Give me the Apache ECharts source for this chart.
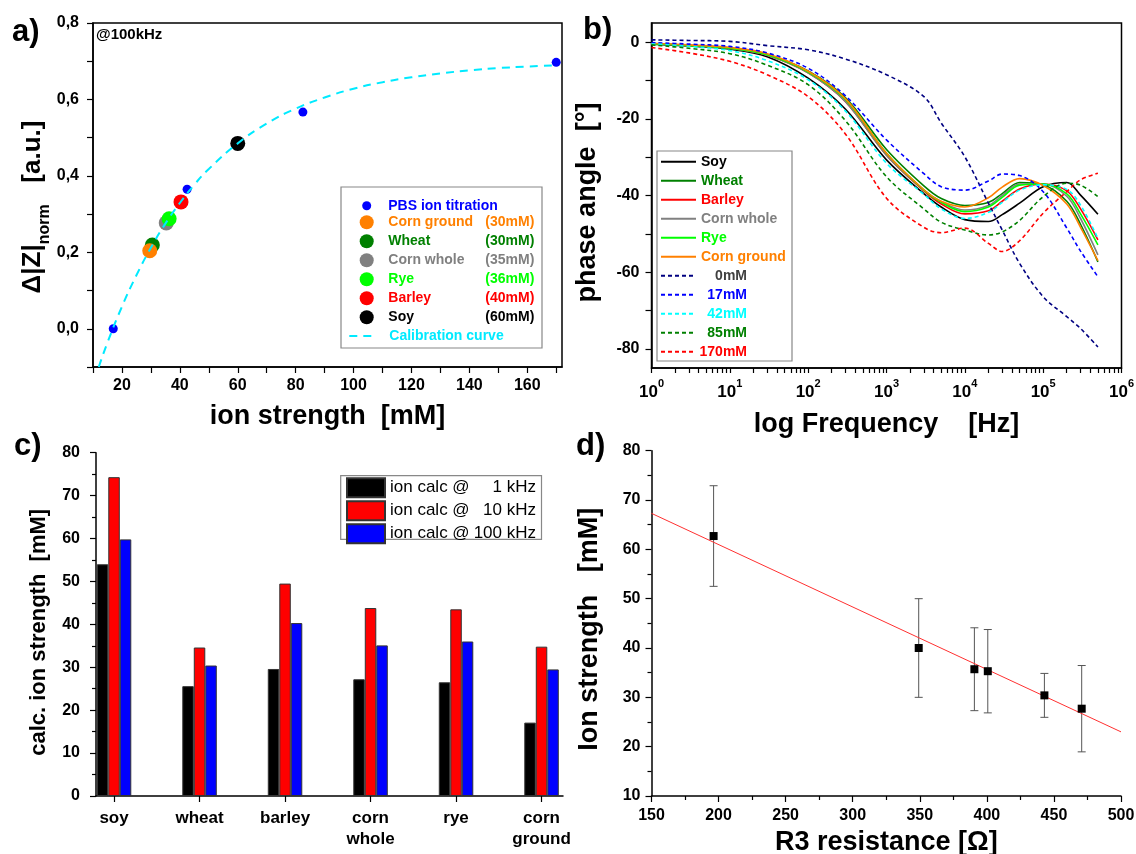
<!DOCTYPE html>
<html>
<head>
<meta charset="utf-8">
<script src="https://cdn.jsdelivr.net/npm/echarts@6/dist/echarts.min.js"></script>
<style>
  html, body { margin: 0; background: #fff; }
  #chart { width: 1136px; height: 854px; }
</style>
</head>
<body>
<div id="chart"></div>
<script>
// ---- a) calibration at 100 kHz
const pbsIon = [17, 42.5, 82.5, 170];
const pbsDz = [0.0, 0.365, 0.567, 0.697];
const sampleNames = ["Corn ground", "Wheat", "Corn whole", "Rye", "Barley", "Soy"];
const sampleConc = ["(30mM)", "(30mM)", "(35mM)", "(36mM)", "(40mM)", "(60mM)"];
const sampleIon = [29.6, 30.5, 35.3, 36.3, 40.4, 60];
const sampleDz = [0.204, 0.219, 0.277, 0.288, 0.332, 0.485];
const sampleColors = ["#ff8000", "#008000", "#808080", "#00ff00", "#ff0000", "#000000"];
const calibIon = [12, 15, 20, 25, 30, 35, 40, 45, 50, 60, 70, 80, 90, 100, 110, 120, 130, 140, 150, 160, 170];
const calibDz = [-0.1, -0.036, 0.058, 0.14, 0.212, 0.275, 0.329, 0.377, 0.418, 0.485, 0.537, 0.576, 0.605, 0.628, 0.645, 0.658, 0.668, 0.676, 0.682, 0.686, 0.689];
const ionTicks = [10, 20, 30, 40, 50, 60, 70, 80, 90, 100, 110, 120, 130, 140, 150, 160, 170];
const ionLabels = [20, 40, 60, 80, 100, 120, 140, 160];
const dzTicks = [-0.1, 0, 0.1, 0.2, 0.3, 0.4, 0.5, 0.6, 0.7, 0.8];
const dzLabels = [0, 0.2, 0.4, 0.6, 0.8];

// ---- b) phase spectra
const freqHz = [1, 3, 10, 30, 100, 300, 1000, 3000, 5000, 10000, 20000, 30000, 50000, 100000, 200000, 300000, 500000];
const phaseSoy = [-0.5, -1.0, -1.8, -3.8, -9.4, -17.5, -30.7, -39.5, -43.0, -46.3, -46.8, -45.0, -42.0, -37.7, -36.6, -39.9, -44.9];
const phaseWheat = [-0.4, -0.8, -1.5, -3.2, -7.5, -14.5, -28.0, -37.5, -40.8, -42.6, -41.8, -39.5, -36.6, -37.2, -41.5, -47.5, -57.3];
const phaseBarley = [-0.4, -0.9, -1.6, -3.4, -8.0, -15.5, -29.5, -38.8, -42.2, -44.8, -44.0, -41.5, -38.3, -37.0, -38.8, -43.5, -51.6];
const phaseCornWhole = [-0.4, -0.9, -1.6, -3.4, -8.0, -15.5, -29.5, -38.6, -41.6, -43.8, -42.6, -40.0, -37.0, -37.0, -40.2, -46.0, -55.5];
const phaseRye = [-0.4, -0.9, -1.6, -3.3, -7.8, -15.0, -29.0, -38.6, -41.8, -44.2, -43.0, -40.5, -37.3, -37.0, -39.6, -44.8, -52.9];
const phaseCornGround = [-0.3, -0.7, -1.4, -3.0, -7.6, -14.8, -29.0, -38.5, -41.5, -43.0, -40.6, -37.8, -35.6, -37.4, -42.2, -48.3, -57.0];
const phase0 = [0.6, 0.45, 0.2, -0.9, -2.0, -4.4, -8.5, -14.2, -21.1, -29.9, -42.0, -49.0, -57.7, -66.4, -71.6, -74.7, -79.5];
const phase17 = [-0.1, -0.5, -1.1, -2.8, -6.8, -14.0, -25.5, -34.3, -37.7, -38.6, -36.2, -34.4, -34.8, -39.0, -48.5, -54.5, -61.2];
const phase42 = [-0.4, -1.1, -2.2, -4.8, -9.8, -18.0, -31.6, -39.7, -43.5, -46.0, -44.4, -41.8, -38.6, -37.2, -38.4, -42.5, -51.2];
const phase85 = [-0.7, -1.6, -3.0, -6.0, -11.1, -20.5, -35.1, -43.5, -47.0, -49.0, -50.3, -49.5, -46.5, -40.3, -36.8, -37.3, -40.3];
const phase170 = [-1.4, -2.8, -5.0, -8.5, -14.2, -24.0, -40.7, -48.3, -49.7, -48.5, -52.5, -54.6, -51.8, -44.6, -39.0, -35.9, -34.2];
const bNames = ["Soy", "Wheat", "Barley", "Corn whole", "Rye", "Corn ground", "0mM", "17mM", "42mM", "85mM", "170mM"];
const bPhase = [phaseSoy, phaseWheat, phaseBarley, phaseCornWhole, phaseRye, phaseCornGround, phase0, phase17, phase42, phase85, phase170];
const bColors = ["#000000", "#008000", "#ff0000", "#808080", "#00ff00", "#ff8000", "#000080", "#0000ff", "#00ffff", "#008000", "#ff0000"];
const bTextColors = ["#000000", "#008000", "#ff0000", "#808080", "#00ff00", "#ff8000", "#404040", "#0000ff", "#00ffff", "#008000", "#ff0000"];
const phaseTicks = [-80, -70, -60, -50, -40, -30, -20, -10, 0];
const phaseLabels = [-80, -60, -40, -20, 0];
const decadeLabels = [1, 10, 100, 1000, 10000, 100000, 1000000];

// ---- c) calculated ion strength
const grainNames = ["soy", "wheat", "barley", "corn\nwhole", "rye", "corn\nground"];
const grainPos = [1, 2, 3, 4, 5, 6];
const calc1k = [54.0, 25.6, 29.6, 27.2, 26.5, 17.1];
const calc10k = [74.3, 34.6, 49.5, 43.8, 43.5, 34.8];
const calc100k = [59.8, 30.4, 40.3, 35.1, 36.0, 29.5];
const calcNames = ["ion calc @ 1 kHz", "ion calc @ 10 kHz", "ion calc @ 100 kHz"];

// ---- d) ion strength vs R3
const r3 = [196.3, 349.2, 390.7, 400.7, 442.9, 470.7];
const ionD = [62.7, 40.0, 35.7, 35.3, 30.4, 27.7];
const ionErr = [10.2, 10.0, 8.4, 8.45, 4.45, 8.75];
const fitR = [150, 500];
const fitIon = [67.3, 23.0];

const FONT = '"Liberation Sans", Arial, sans-serif';
const BOLD16 = { fontSize: 16, fontWeight: "bold", color: "#000", fontFamily: FONT };
const AXIS_LINE = { show: true, onZero: false, lineStyle: { color: "#000", width: 1.5 } };
const TICK_LINE = { color: "#000", width: 1.2 };
const TITLE = { fontSize: 27, fontWeight: "bold", color: "#000", fontFamily: FONT };

const logTicks = [];
for (let e = 0; e < 6; e++) for (let k = 1; k < 10; k++) logTicks.push(k * Math.pow(10, e));
logTicks.push(1000000);

function zip(xs, ys) { return xs.map((x, i) => [x, ys[i]]); }

const chart = echarts.init(document.getElementById("chart"), null, { renderer: "canvas" });

const series = [];
// a
series.push({
  name: "PBS ion titration", type: "scatter", xAxisIndex: 0, yAxisIndex: 0,
  data: zip(pbsIon, pbsDz), symbolSize: 9, itemStyle: { color: "#0000ff", opacity: 1 }, z: 3
});
[1, 0, 2, 3, 4, 5].forEach((k) => {
  series.push({
    name: sampleNames[k], type: "scatter", xAxisIndex: 0, yAxisIndex: 0,
    data: [[sampleIon[k], sampleDz[k]]], symbolSize: 15, itemStyle: { color: sampleColors[k], opacity: 1 }, z: 2
  });
});
series.push({
  name: "Calibration curve", type: "line", xAxisIndex: 0, yAxisIndex: 0,
  data: zip(calibIon, calibDz), smooth: true, symbol: "none",
  lineStyle: { color: "#00eaff", width: 2, type: [8, 6] }, z: 5
});
// b
bNames.forEach((n, i) => {
  series.push({
    name: "b:" + n, type: "line", xAxisIndex: 1, yAxisIndex: 1,
    data: zip(freqHz, bPhase[i]), smooth: 0.35, symbol: "none",
    lineStyle: { color: bColors[i], width: 1.6, type: i < 6 ? "solid" : [4, 3] },
    itemStyle: { color: bColors[i] }
  });
});
// c
[calc1k, calc10k, calc100k].forEach((vals, i) => {
  series.push({
    name: calcNames[i], type: "bar", xAxisIndex: 2, yAxisIndex: 2,
    data: zip(grainPos, vals), barWidth: 11.5, barGap: "0%",
    itemStyle: { color: ["#000000", "#ff0000", "#0000ff"][i], borderColor: "#333", borderWidth: 1 }
  });
});
// d
series.push({
  type: "custom", xAxisIndex: 3, yAxisIndex: 3, z: 1,
  data: r3.map((x, i) => [x, ionD[i] - ionErr[i], ionD[i] + ionErr[i]]),
  encode: { x: 0, y: [1, 2] },
  renderItem: (params, api) => {
    const top = api.coord([api.value(0), api.value(2)]);
    const bot = api.coord([api.value(0), api.value(1)]);
    const w = 4;
    const st = { stroke: "#555", lineWidth: 1 };
    return {
      type: "group", children: [
        { type: "line", shape: { x1: top[0], y1: top[1], x2: bot[0], y2: bot[1] }, style: st },
        { type: "line", shape: { x1: top[0] - w, y1: top[1], x2: top[0] + w, y2: top[1] }, style: st },
        { type: "line", shape: { x1: bot[0] - w, y1: bot[1], x2: bot[0] + w, y2: bot[1] }, style: st }
      ]
    };
  }
});
series.push({
  name: "fit", type: "line", xAxisIndex: 3, yAxisIndex: 3, data: zip(fitR, fitIon),
  symbol: "none", lineStyle: { color: "#ff3030", width: 1 }, z: 2
});
series.push({
  name: "R3 data", type: "scatter", xAxisIndex: 3, yAxisIndex: 3, data: zip(r3, ionD),
  symbol: "rect", symbolSize: 8, itemStyle: { color: "#000", opacity: 1 }, z: 3
});

const legendText = { fontSize: 14, fontWeight: "bold", fontFamily: FONT };

chart.setOption({
  animation: false,
  backgroundColor: "#fff",
  textStyle: { fontFamily: FONT },
  grid: [
    { left: 93, top: 23, width: 469, height: 344, show: true, borderColor: "#000", borderWidth: 1.5, outerBoundsMode: "none" },
    { left: 651.5, top: 23, width: 470, height: 345, show: true, borderColor: "#000", borderWidth: 1.5, outerBoundsMode: "none" },
    { left: 96, top: 452.7, width: 467, height: 343.3, outerBoundsMode: "none" },
    { left: 651.5, top: 450.7, width: 469.5, height: 345.3, outerBoundsMode: "none" }
  ],
  xAxis: [
    {
      type: "value", gridIndex: 0, min: 10, max: 172, axisLine: AXIS_LINE,
      axisTick: { show: true, length: 6, customValues: ionTicks, lineStyle: TICK_LINE },
      axisLabel: Object.assign({ customValues: ionLabels, margin: 11 }, BOLD16),
      splitLine: { show: false },
      name: "ion strength  [mM]", nameLocation: "middle", nameGap: 36, nameMoveOverlap: false, nameTextStyle: TITLE
    },
    {
      type: "log", logBase: 10, gridIndex: 1, min: 1, max: 1000000, axisLine: AXIS_LINE,
      axisTick: { show: true, length: 5, customValues: logTicks, lineStyle: TICK_LINE },
      axisLabel: {
        customValues: decadeLabels, margin: 10, color: "#000",
        formatter: (v) => "{b|10}{s|" + Math.round(Math.log10(v)) + "}",
        rich: {
          b: { fontSize: 17, fontWeight: "bold", color: "#000", fontFamily: FONT, padding: [6, 0, 0, 0] },
          s: { fontSize: 11, fontWeight: "bold", color: "#000", fontFamily: FONT, verticalAlign: "top" }
        }
      },
      splitLine: { show: false }, minorSplitLine: { show: false },
      name: "log Frequency    [Hz]", nameLocation: "middle", nameGap: 43, nameMoveOverlap: false, nameTextStyle: TITLE
    },
    {
      type: "value", gridIndex: 2, min: 0.789, max: 6.251, axisLine: AXIS_LINE,
      axisTick: { show: true, length: 6, customValues: grainPos, lineStyle: TICK_LINE },
      axisLabel: {
        customValues: grainPos, margin: 12, fontSize: 17, fontWeight: "bold", color: "#000",
        fontFamily: FONT, lineHeight: 21, formatter: (v) => grainNames[Math.round(v) - 1]
      },
      splitLine: { show: false }
    },
    {
      type: "value", gridIndex: 3, min: 150, max: 500, interval: 50, axisLine: AXIS_LINE,
      axisTick: { show: true, length: 6, lineStyle: TICK_LINE },
      minorTick: { show: true, splitNumber: 2, length: 4, lineStyle: TICK_LINE },
      axisLabel: Object.assign({ margin: 12 }, BOLD16),
      splitLine: { show: false },
      name: "R3 resistance [Ω]", nameLocation: "middle", nameGap: 33, nameMoveOverlap: false, nameTextStyle: TITLE
    }
  ],
  yAxis: [
    {
      type: "value", gridIndex: 0, min: -0.1, max: 0.8, axisLine: AXIS_LINE,
      axisTick: { show: true, length: 6, customValues: dzTicks, lineStyle: TICK_LINE },
      axisLabel: Object.assign({ customValues: dzLabels, margin: 14, formatter: (v) => v.toFixed(1).replace(".", ",") }, BOLD16),
      splitLine: { show: false },
      name: "{t|Δ|Z|}{s|norm}{t|   [a.u.]}", nameLocation: "middle", nameGap: 40, nameMoveOverlap: false,
      nameTextStyle: {
        padding: [0, 24, 0, 0],
        rich: {
          t: { fontSize: 26, fontWeight: "bold", color: "#000", fontFamily: FONT, padding: [0, 0, 7, 0] },
          s: { fontSize: 16, fontWeight: "bold", color: "#000", fontFamily: FONT, verticalAlign: "bottom" }
        }
      }
    },
    {
      type: "value", gridIndex: 1, min: -85, max: 5, axisLine: AXIS_LINE,
      axisTick: { show: true, length: 6, customValues: phaseTicks, lineStyle: TICK_LINE },
      axisLabel: Object.assign({ customValues: phaseLabels, margin: 12 }, BOLD16),
      splitLine: { show: false },
      name: "phase angle  [°]", nameLocation: "middle", nameGap: 50, nameMoveOverlap: false,
      nameTextStyle: Object.assign({ padding: [0, 14, 0, 0] }, TITLE)
    },
    {
      type: "value", gridIndex: 2, min: 0, max: 80, interval: 10, axisLine: AXIS_LINE,
      axisTick: { show: true, length: 6, lineStyle: TICK_LINE },
      minorTick: { show: true, splitNumber: 2, length: 4, lineStyle: TICK_LINE },
      axisLabel: Object.assign({ margin: 16 }, BOLD16),
      splitLine: { show: false },
      name: "calc. ion strength  [mM]", nameLocation: "middle", nameGap: 46, nameMoveOverlap: false,
      nameTextStyle: { fontSize: 22, fontWeight: "bold", color: "#000", fontFamily: FONT, padding: [0, 16, 0, 0] }
    },
    {
      type: "value", gridIndex: 3, min: 10, max: 80, interval: 10, axisLine: AXIS_LINE,
      axisTick: { show: true, length: 6, lineStyle: TICK_LINE },
      minorTick: { show: true, splitNumber: 2, length: 4, lineStyle: TICK_LINE },
      axisLabel: Object.assign({ margin: 11 }, BOLD16),
      splitLine: { show: false },
      name: "Ion strength   [mM]", nameLocation: "middle", nameGap: 48, nameMoveOverlap: false,
      nameTextStyle: Object.assign({ padding: [0, 12, 0, 0] }, TITLE)
    }
  ],
  legend: [
    {
      orient: "vertical", left: 362.2, top: 198.8, padding: 0, itemWidth: 9, itemHeight: 9, itemGap: 5,
      selectedMode: false, icon: "circle", itemStyle: { opacity: 1 },
      data: [{ name: "PBS ion titration", textStyle: { color: "#0000ff" } }],
      formatter: (n) => "{p|" + n + "}",
      textStyle: Object.assign({
        rich: { p: { fontSize: 14, fontWeight: "bold", fontFamily: FONT, padding: [0, 0, 0, 12] } }
      }, legendText)
    },
    {
      orient: "vertical", left: 359.7, top: 215.3, padding: 0, itemWidth: 14, itemHeight: 14, itemGap: 5,
      selectedMode: false, icon: "circle", itemStyle: { opacity: 1 },
      data: sampleNames.map((n, i) => ({ name: n, textStyle: { color: sampleColors[i] } })),
      formatter: (n) => "{n|" + n + "}{m|" + sampleConc[sampleNames.indexOf(n)] + "}",
      textStyle: Object.assign({
        rich: {
          n: { fontSize: 14, fontWeight: "bold", fontFamily: FONT, width: 92, padding: [0, 0, 0, 9.6] },
          m: { fontSize: 14, fontWeight: "bold", fontFamily: FONT, width: 54, align: "right" }
        }
      }, legendText)
    },
    {
      orient: "vertical", left: 348.3, top: 329, padding: 0, itemWidth: 27, itemHeight: 14,
      selectedMode: false, itemStyle: { opacity: 0 },
      data: [{ name: "Calibration curve", textStyle: { color: "#00eaff" } }],
      formatter: (n) => "{c|" + n + "}",
      textStyle: Object.assign({
        rich: { c: { fontSize: 14, fontWeight: "bold", fontFamily: FONT, padding: [0, 0, 0, 8] } }
      }, legendText)
    },
    {
      orient: "vertical", left: 660, top: 154.7, padding: 0, itemWidth: 35, itemHeight: 14, itemGap: 5,
      selectedMode: false, itemStyle: { opacity: 0 },
      data: bNames.map((n, i) => ({ name: "b:" + n, textStyle: { color: bTextColors[i] } })),
      formatter: (n) => {
        const s = n.slice(2);
        return bNames.indexOf(s) >= 6 ? "{r|" + s + "}" : s;
      },
      textStyle: Object.assign({
        rich: { r: { fontSize: 14, fontWeight: "bold", fontFamily: FONT, width: 46, align: "right" } }
      }, legendText)
    },
    {
      orient: "vertical", left: 346, top: 477.2, padding: 0, itemWidth: 38, itemHeight: 19, itemGap: 2,
      selectedMode: false, icon: "rect",
      data: calcNames,
      formatter: (n) => "{a|ion calc @}{b|" + n.split("@ ")[1] + "}",
      textStyle: {
        color: "#000", fontSize: 17, fontFamily: FONT,
        rich: {
          a: { fontSize: 17, fontFamily: FONT, color: "#000", width: 80 },
          b: { fontSize: 17, fontFamily: FONT, color: "#000", width: 66, align: "right" }
        }
      }
    }
  ],
  graphic: [
    { type: "rect", z: 3, shape: { x: 341, y: 187, width: 201, height: 161 }, style: { fill: "none", stroke: "#888", lineWidth: 1.2 } },
    { type: "rect", z: 3, shape: { x: 657, y: 151, width: 135, height: 210 }, style: { fill: "none", stroke: "#888", lineWidth: 1.2 } },
    { type: "rect", z: 3, shape: { x: 340.7, y: 475.7, width: 200.8, height: 63.6 }, style: { fill: "none", stroke: "#888", lineWidth: 1.2 } },
    { type: "text", left: 12, top: 17, style: { text: "a)", fontSize: 31, fontWeight: "bold", fontFamily: FONT, fill: "#000" } },
    { type: "text", left: 583, top: 15, style: { text: "b)", fontSize: 31, fontWeight: "bold", fontFamily: FONT, fill: "#000" } },
    { type: "text", left: 14, top: 431, style: { text: "c)", fontSize: 31, fontWeight: "bold", fontFamily: FONT, fill: "#000" } },
    { type: "text", left: 576, top: 431, style: { text: "d)", fontSize: 31, fontWeight: "bold", fontFamily: FONT, fill: "#000" } },
    { type: "text", left: 96, top: 27, style: { text: "@100kHz", fontSize: 15, fontWeight: "bold", fontFamily: FONT, fill: "#000" } }
  ],
  series: series
});
</script>
</body>
</html>
